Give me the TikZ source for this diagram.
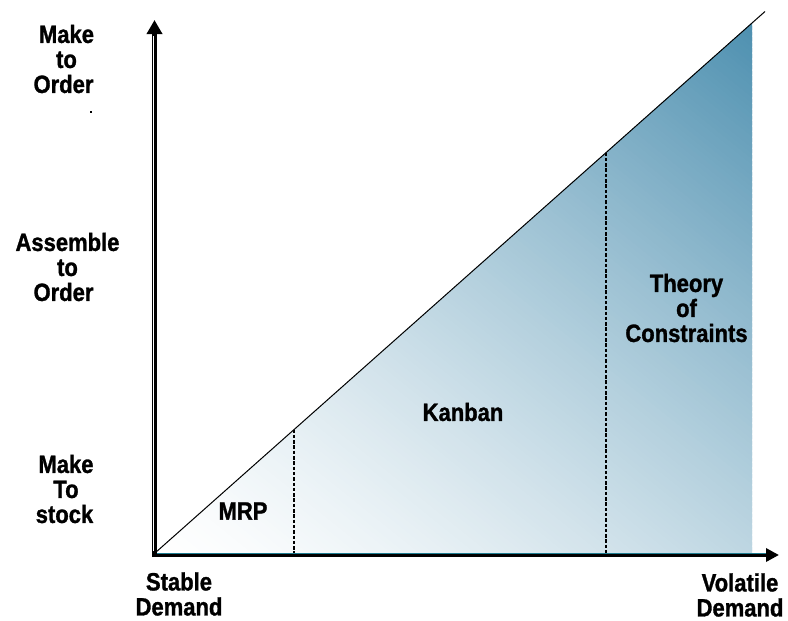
\documentclass[tikz,border=0pt]{standalone}
\usepackage{fontspec}
\setmainfont{Liberation Sans}[FakeStretch=0.88, BoldFeatures={FakeBold=1.2}]
\usetikzlibrary{arrows.meta}
\definecolor{steel}{RGB}{78,144,176}
\definecolor{axisteal}{RGB}{30,125,145}
\begin{document}
\begin{tikzpicture}[x=1pt,y=-1pt,
  lab/.style={font=\bfseries\fontsize{25}{25}\selectfont, align=center, inner sep=0pt},
  axisline/.style={line width=4.5pt, black},
  splitline/.style={line width=2.6pt, dash pattern=on 3.5pt off 1.8pt, black},
  diag/.style={line width=1pt, black}]
\useasboundingbox (0,0) rectangle (788,621);

% corners of the shaded region
\coordinate (O) at (155,553);
\coordinate (TR) at (752,22.8);
\coordinate (BR) at (752,553);
\coordinate (diagEnd) at (765,11.5);

% gradient triangle: thin bands across the direction (0.626,-0.779),
% lightening from the upper right corner towards the origin
\begin{scope}
  \clip (O) -- (TR) -- (BR) -- cycle;
  \foreach \i in {0,...,179} {
    \pgfmathsetmacro{\ta}{\i/180}
    \pgfmathsetmacro{\sa}{\ta*786.8}
    \pgfmathsetmacro{\sb}{\sa+1.7/180*786.8}
    \pgfmathsetmacro{\p}{100*(\ta+0.5/180)^1.35}
    \pgfmathsetmacro{\xa}{155+0.626*\sa}
    \pgfmathsetmacro{\ya}{553-0.779*\sa}
    \pgfmathsetmacro{\xb}{155+0.626*\sb}
    \pgfmathsetmacro{\yb}{553-0.779*\sb}
    \colorlet{band}{steel!\p!white}
    \fill[band] (\xa-701.1,\ya-563.4) -- (\xa+701.1,\ya+563.4)
                -- (\xb+701.1,\yb+563.4) -- (\xb-701.1,\yb-563.4) -- cycle;
  }
\end{scope}

% diagonal boundary
\draw[diag] (O) -- (diagEnd);

% region separators
\coordinate (s1top) at (294,429.5);
\coordinate (s1bot) at (294,553);
\coordinate (s2top) at (606,152.5);
\coordinate (s2bot) at (606,553);
\draw[splitline] (s1top) -- (s1bot);
\draw[splitline] (s2top) -- (s2bot);

% axes
\coordinate (yBase) at (154.5,557);
\coordinate (yTip) at (154.5,20);
\coordinate (xBase) at (152,555);
\coordinate (xTip) at (779,555);
\draw[axisline, -{Triangle[length=14pt,width=15pt]}] (yBase) -- (yTip);
\draw[white, line width=0.9pt] (153.2,551) -- (153.2,36);
\draw[line width=4pt, -{Triangle[length=13pt,width=13pt]}] (xBase) -- (xTip);
\draw[axisteal, line width=1.3pt] (157,553.4) -- (766,553.4);

% small mark
\fill (90,111.3) rectangle (92,112.7);

% vertical axis labels
\node[lab] (mto) at (66.5,59) {Make\\to\hspace*{33pt}\\Order\hspace*{6pt}};
\node[lab] (ato) at (67.5,267) {Assemble\\to\hspace*{30pt}\\Order\hspace*{8pt}};
\node[lab] (mts) at (66,489) {Make\\To\hspace*{9pt}\\stock\hspace*{3pt}};

% horizontal axis labels
\node[lab] (stable) at (179,594) {Stable\\Demand};
\node[lab] (volatile) at (740,595) {Volatile\\Demand};

% region labels
\node[lab] (mrp) at (243,511) {MRP};
\node[lab] (kanban) at (463,412) {Kanban};
\node[lab] (toc) at (686.5,308) {Theory\\of\hspace*{7pt}\\Constraints};
\end{tikzpicture}
\end{document}
